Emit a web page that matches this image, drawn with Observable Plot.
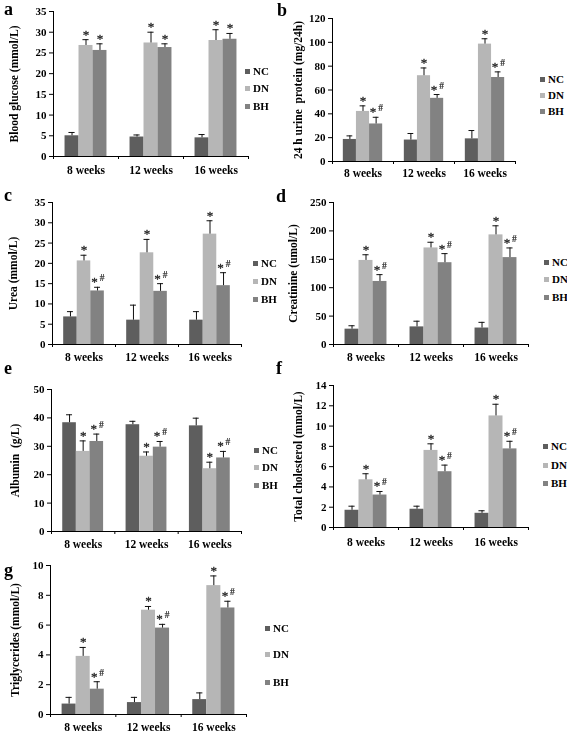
<!DOCTYPE html>
<html><head><meta charset="utf-8">
<script src="https://cdn.jsdelivr.net/npm/d3@7"></script>
<script src="https://cdn.jsdelivr.net/npm/@observablehq/plot@0.6"></script>
<style>
body{margin:0;background:#fff;}
#root{position:relative;width:567px;height:733px;overflow:hidden;font-family:"Liberation Serif","Times New Roman",serif;color:#000;}
.panel{position:absolute;filter:grayscale(1);will-change:transform;}
.letter{position:absolute;font-weight:bold;font-size:18px;line-height:18px;}
.legend{position:absolute;font-weight:bold;font-size:11px;}
.legend .row{position:absolute;left:0;display:flex;align-items:center;height:12px;white-space:nowrap;}
.legend .sw{width:5px;height:5px;margin-right:3px;}
</style></head><body><div id="root"></div>
<script>
// ---------- shared categories ----------
const weeks = ["8 weeks", "12 weeks", "16 weeks"];
const groups = ["NC", "DN", "BH"];
const groupColors = ["#5e5e5e", "#b6b6b6", "#828282"];

// ---------- data (rows: NC, DN, BH; columns: 8, 12, 16 weeks) ----------
// a: Blood glucose (mmol/L)
const glucoseMean = [[5.0, 4.7, 4.5], [26.8, 27.4, 28.0], [25.6, 26.3, 28.3]];
const glucoseErr  = [[0.8, 0.5, 0.8], [1.4, 2.6, 2.6], [1.6, 0.9, 1.4]];
const glucoseSig  = ["", "*", "*"];
const glucoseTicks = [0, 5, 10, 15, 20, 25, 30, 35];

// b: 24 h urine protein (mg/24h)
const urineMean = [[18.5, 18, 19], [42, 72, 98.5], [31.5, 53, 70.5]];
const urineErr  = [[3, 5.5, 7], [4.7, 6.5, 4.5], [5.6, 3.2, 4.7]];
const urineSig  = ["", "*", "*#"];
const urineTicks = [0, 20, 40, 60, 80, 100, 120];

// c: Urea (mmol/L)
const ureaMean = [[6.8, 6.0, 6.0], [20.6, 22.6, 27.2], [13.2, 13.1, 14.5]];
const ureaErr  = [[1.3, 3.7, 2.1], [1.4, 3.3, 3.3], [0.9, 1.9, 3.2]];
const ureaSig  = ["", "*", "*#"];
const ureaTicks = [0, 5, 10, 15, 20, 25, 30, 35];

// d: Creatinine (umol/L)
const creatMean = [[27, 31, 29], [148, 170, 193], [111, 144, 153]];
const creatErr  = [[6, 10, 10], [10, 10, 16], [12, 16, 17]];
const creatSig  = ["", "*", "*#"];
const creatTicks = [0, 50, 100, 150, 200, 250];

// e: Albumin (g/L)
const albMean = [[38.3, 37.6, 37.2], [28.2, 26.5, 22.1], [31.7, 29.7, 25.9]];
const albErr  = [[2.8, 1.2, 2.7], [3.7, 1.5, 2.3], [2.6, 2.0, 2.3]];
const albSig  = ["", "*", "*#"];
const albTicks = [0, 10, 20, 30, 40, 50];

// f: Total cholesterol (mmol/L)
const cholMean = [[1.7, 1.8, 1.4], [4.7, 7.6, 11.0], [3.2, 5.5, 7.75]];
const cholErr  = [[0.4, 0.3, 0.25], [0.6, 0.65, 1.15], [0.35, 0.65, 0.75]];
const cholSig  = ["", "*", "*#"];
const cholTicks = [0, 2, 4, 6, 8, 10, 12, 14];

// g: Triglycerides (mmol/L)
const trigMean = [[0.7, 0.8, 1.0], [3.9, 7.0, 8.65], [1.7, 5.8, 7.15]];
const trigErr  = [[0.45, 0.35, 0.45], [0.6, 0.25, 0.65], [0.5, 0.25, 0.45]];
const trigSig  = ["", "*", "*#"];
const trigTicks = [0, 2, 4, 6, 8, 10];

// ---------- panel definitions (layout in px) ----------
const panels = [
  {letter: "a", label: "Blood glucose (mmol/L)", mean: glucoseMean, err: glucoseErr, sig: glucoseSig, ticks: glucoseTicks,
   left: 0, top: 0, width: 250, height: 180, ml: 53, mr: 2, mt: 11, mb: 24, xPad: 9, yOff: 39,
   letterPos: [4, 0], legend: [245, [71, 88, 106]]},
  {letter: "b", label: "24 h urine  protein (mg/24h)", mean: urineMean, err: urineErr, sig: urineSig, ticks: urineTicks,
   left: 283, top: 0, width: 234, height: 180, ml: 49, mr: 2, mt: 18, mb: 19, xPad: 7, yOff: 34,
   letterPos: [277, 1], legend: [540, [79, 95, 111]]},
  {letter: "c", label: "Urea (mmol/L)", mean: ureaMean, err: ureaErr, sig: ureaSig, ticks: ureaTicks,
   left: 0, top: 190, width: 243, height: 180, ml: 52, mr: 2, mt: 12, mb: 26, xPad: 8, yOff: 39,
   letterPos: [4, 186], legend: [253, [263, 281, 299]]},
  {letter: "d", label: "Creatinine (umol/L)", mean: creatMean, err: creatErr, sig: creatSig, ticks: creatTicks,
   left: 283, top: 190, width: 247, height: 180, ml: 50, mr: 2, mt: 12, mb: 26, xPad: 8, yOff: 40,
   letterPos: [276, 187], legend: [544, [262, 279, 297]]},
  {letter: "e", label: "Albumin  (g/L)", mean: albMean, err: albErr, sig: albSig, ticks: albTicks,
   left: 0, top: 380, width: 243, height: 180, ml: 51, mr: 2, mt: 9, mb: 29, xPad: 8, yOff: 36,
   letterPos: [4, 359], legend: [254, [450, 467, 485]]},
  {letter: "f", label: "Total cholesterol (mmol/L)", mean: cholMean, err: cholErr, sig: cholSig, ticks: cholTicks,
   left: 283, top: 380, width: 247, height: 180, ml: 50, mr: 2, mt: 5, mb: 33, xPad: 10, yOff: 35,
   letterPos: [276, 359], legend: [543, [446, 465, 483]]},
  {letter: "g", label: "Triglycerides (mmol/L)", mean: trigMean, err: trigErr, sig: trigSig, ticks: trigTicks,
   left: 0, top: 560, width: 248, height: 173, ml: 50, mr: 2, mt: 5, mb: 19, xPad: 8, yOff: 35,
   letterPos: [4, 561], legend: [265, [628, 654, 682]]}
];

const root = document.getElementById("root");
const bw = 0.215;      // bar width in week-band units
const cap = bw * 0.22; // half width of error cap
const starStyle = {fill: "#222", stroke: "#222", strokeWidth: 0.3, fontWeight: "normal"};

function drawPanel(p) {
  const rows = [];
  groups.forEach((g, gi) => weeks.forEach((w, wi) =>
    rows.push({week: w, wi, group: g, gi, value: p.mean[gi][wi], err: p.err[gi][wi], sig: p.sig[gi]})));
  const cx = d => d.wi + (d.gi - 1) * bw;
  const top = d => d.value + d.err;
  const yMin = p.ticks[0], yMax = p.ticks[p.ticks.length - 1];

  const svg = Plot.plot({
    width: p.width, height: p.height,
    marginLeft: p.ml, marginRight: p.mr, marginTop: p.mt, marginBottom: p.mb,
    x: {domain: [-0.5, weeks.length - 0.5]},
    y: {domain: [yMin, yMax]},
    color: {domain: groups, range: groupColors},
    style: {fontFamily: "'Liberation Serif', 'Times New Roman', serif", fontSize: "11px", fontWeight: "bold", color: "#000", background: "transparent", overflow: "visible"},
    marks: [
      Plot.rect(rows, {x1: d => cx(d) - bw / 2, x2: d => cx(d) + bw / 2, y1: 0, y2: "value", fill: "group"}),
      Plot.ruleX(rows, {x: cx, y1: "value", y2: top, stroke: "#111", strokeWidth: 1}),
      Plot.ruleY(rows, {y: top, x1: d => cx(d) - cap, x2: d => cx(d) + cap, stroke: "#111", strokeWidth: 1}),
      Plot.ruleY([yMin], {stroke: "#000"}),
      Plot.ruleX([-0.5], {y1: yMin, y2: yMax, stroke: "#000"}),
      Plot.axisY({ticks: p.ticks, tickSize: 4, tickPadding: 3, label: null}),
      Plot.axisX({ticks: d3.range(weeks.length), tickFormat: i => weeks[i], tickSize: 0, tickPadding: p.xPad, label: null, fontSize: 11.5}),
      Plot.axisX({ticks: d3.range(-0.5, weeks.length), tickSize: 3, fill: "none", label: null}),
      Plot.text([p.label], {frameAnchor: "left", dx: -p.yOff, rotate: -90, textAnchor: "middle", lineAnchor: "middle", fontSize: 11.5, fill: "#000"}),
      Plot.text(rows.filter(d => d.sig === "*"), {x: cx, y: top, text: () => "*", lineAnchor: "bottom", dy: -1, fontSize: 13, ...starStyle}),
      Plot.text(rows.filter(d => d.sig === "*#"), {x: cx, y: top, text: () => "*", lineAnchor: "bottom", dy: -1, dx: -3, fontSize: 13, ...starStyle}),
      Plot.text(rows.filter(d => d.sig === "*#"), {x: cx, y: top, text: () => "#", lineAnchor: "bottom", dy: -6, dx: 4.5, fontSize: 9.5, ...starStyle, strokeWidth: 0.2})
    ]
  });
  const holder = document.createElement("div");
  holder.className = "panel";
  holder.style.left = p.left + "px";
  holder.style.top = p.top + "px";
  holder.appendChild(svg);
  root.appendChild(holder);

  const letter = document.createElement("div");
  letter.className = "letter";
  letter.textContent = p.letter;
  letter.style.left = p.letterPos[0] + "px";
  letter.style.top = p.letterPos[1] + "px";
  root.appendChild(letter);

  const lg = document.createElement("div");
  lg.className = "legend";
  lg.style.left = p.legend[0] + "px";
  lg.style.top = "0px";
  groups.forEach((g, gi) => {
    const row = document.createElement("div");
    row.className = "row";
    row.style.top = (p.legend[1][gi] - 6) + "px";
    const sw = document.createElement("span");
    sw.className = "sw";
    sw.style.background = groupColors[gi];
    const tx = document.createElement("span");
    tx.textContent = g;
    row.appendChild(sw);
    row.appendChild(tx);
    lg.appendChild(row);
  });
  root.appendChild(lg);
}

panels.forEach(drawPanel);
</script>
</body></html>
